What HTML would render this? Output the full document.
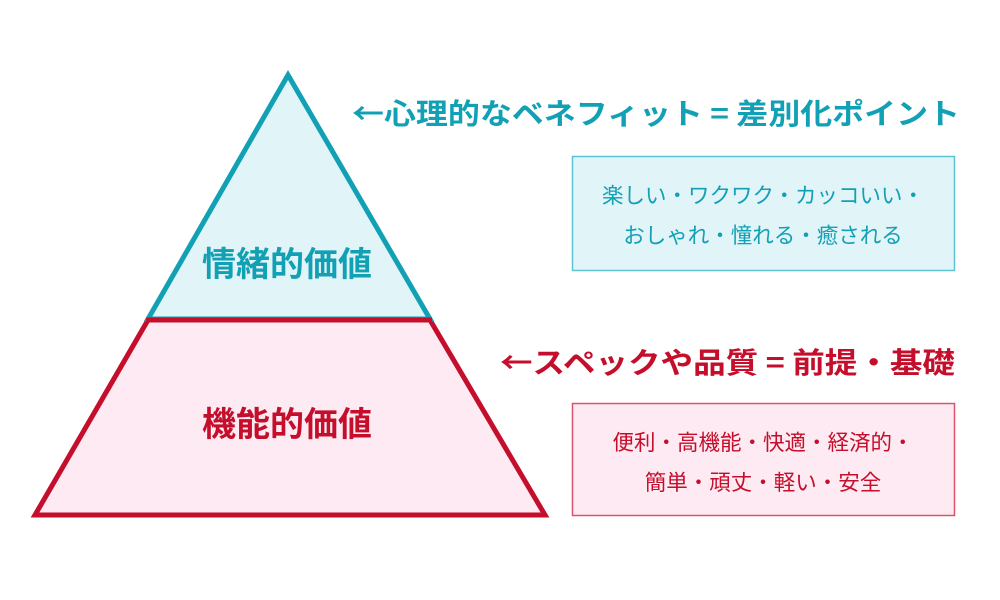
<!DOCTYPE html>
<html><head><meta charset="utf-8"><style>
body{margin:0;width:1000px;height:600px;background:#fff;overflow:hidden;font-family:"Liberation Sans","Noto Sans CJK JP",sans-serif}
</style></head><body>
<svg width="1000" height="600" xmlns="http://www.w3.org/2000/svg" style="position:absolute;left:0;top:0">
<polygon points="148,320 430,320 545,515 35,515" fill="#fdeaf2" stroke="#c40e2b" stroke-width="5" stroke-linejoin="miter"/>
<polygon points="288,75 430,319 148,319" fill="#e1f4f8" stroke="#12a0b5" stroke-width="5" stroke-linejoin="miter"/>
<line x1="146" y1="320" x2="432" y2="320" stroke="#c40e2b" stroke-width="5"/>
<g font-family="Noto Sans CJK JP, sans-serif" font-weight="bold">
<text x="287" y="276" font-size="34" fill="#12a0b5" text-anchor="middle">情緒的価値</text>
<text x="287" y="436" font-size="34" fill="#c40e2b" text-anchor="middle">機能的価値</text>
<text x="352" y="124" font-size="29" fill="#12a0b5" textLength="608" lengthAdjust="spacingAndGlyphs">←心理的なベネフィット = 差別化ポイント</text>
<text x="500" y="373" font-size="29" fill="#c40e2b" textLength="455" lengthAdjust="spacingAndGlyphs">←スペックや品質 = 前提・基礎</text>
</g>
<rect x="572.5" y="156.5" width="382" height="114" fill="#e1f4f8" stroke="#5cc3d2" stroke-width="1.5"/>
<rect x="572.5" y="403.5" width="382" height="112" fill="#fdeaf2" stroke="#d9546c" stroke-width="1.5"/>
<g font-family="Noto Sans CJK JP, sans-serif" font-size="21.5" text-anchor="middle">
<text x="763" y="203" fill="#12a0b5">楽しい・ワクワク・カッコいい・</text>
<text x="763" y="243" fill="#12a0b5">おしゃれ・憧れる・癒される</text>
<text x="763" y="450" fill="#c40e2b">便利・高機能・快適・経済的・</text>
<text x="763" y="490" fill="#c40e2b">簡単・頑丈・軽い・安全</text>
</g>
</svg>
</body></html>
